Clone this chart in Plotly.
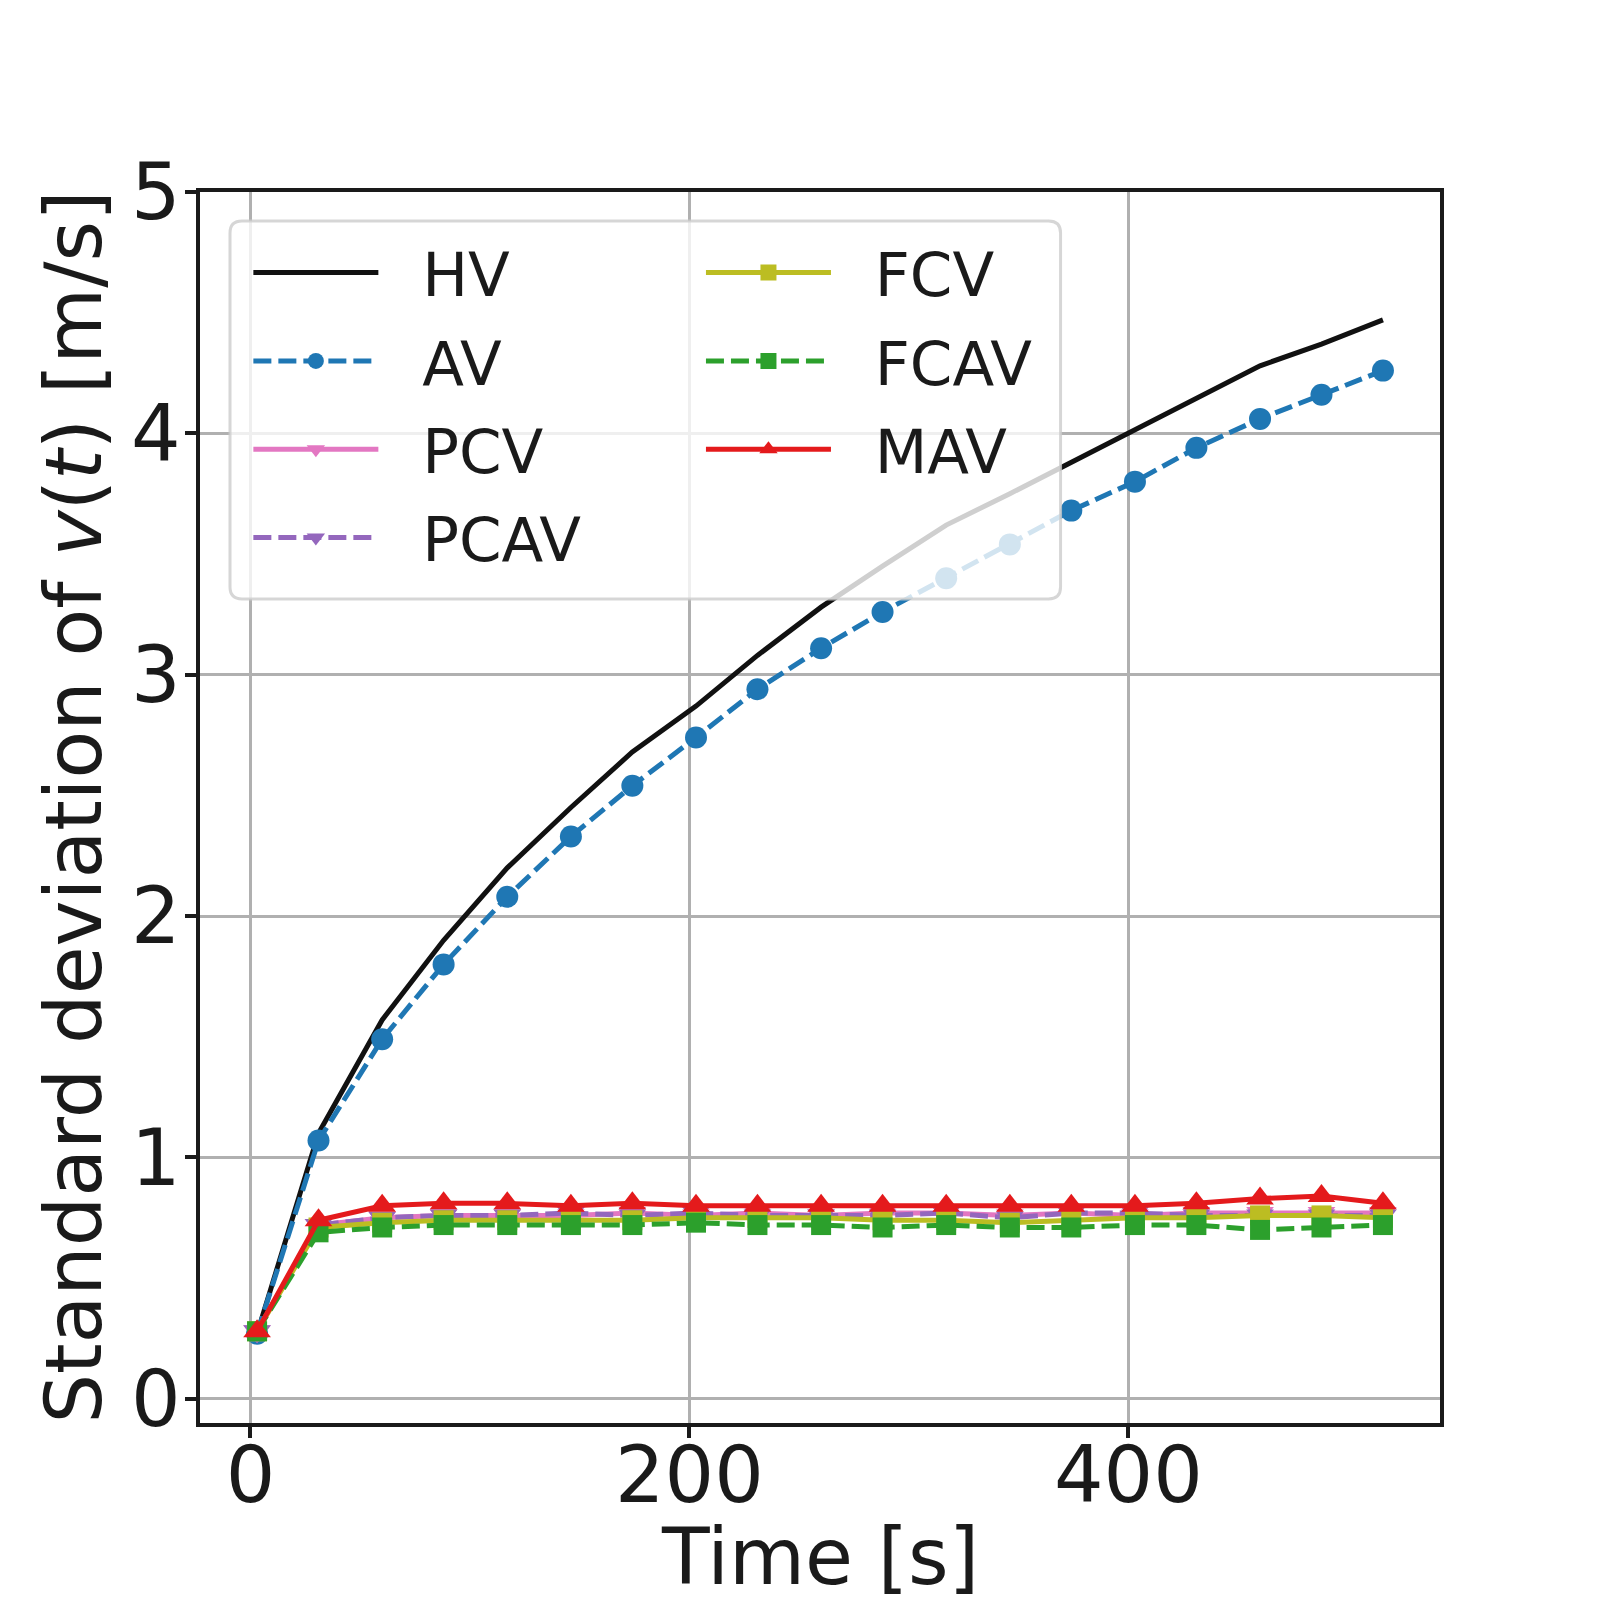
import plotly.graph_objects as go

# time stamps [s]
t = [3, 31, 60, 88, 117, 146, 174, 203, 231, 260, 288, 317, 346, 374, 403, 431, 460, 488, 516]

# standard deviation of v(t) [m/s]
hv = [0.27, 1.10, 1.57, 1.90, 2.20, 2.45, 2.68, 2.87, 3.08, 3.28, 3.45, 3.62, 3.75, 3.88, 4.02, 4.15, 4.28, 4.37, 4.47]
av = [0.27, 1.07, 1.49, 1.80, 2.08, 2.33, 2.54, 2.74, 2.94, 3.11, 3.26, 3.40, 3.54, 3.68, 3.80, 3.94, 4.06, 4.16, 4.26]
pcv = [0.28, 0.72, 0.75, 0.76, 0.76, 0.76, 0.77, 0.76, 0.77, 0.76, 0.77, 0.77, 0.76, 0.77, 0.76, 0.77, 0.77, 0.77, 0.77]
pcav = [0.28, 0.72, 0.75, 0.76, 0.76, 0.77, 0.76, 0.77, 0.76, 0.76, 0.76, 0.77, 0.75, 0.77, 0.77, 0.76, 0.76, 0.76, 0.76]
fcv = [0.28, 0.71, 0.73, 0.74, 0.74, 0.74, 0.74, 0.75, 0.75, 0.75, 0.74, 0.74, 0.73, 0.74, 0.75, 0.75, 0.76, 0.76, 0.75]
fcav = [0.28, 0.69, 0.71, 0.72, 0.72, 0.72, 0.72, 0.73, 0.72, 0.72, 0.71, 0.72, 0.71, 0.71, 0.72, 0.72, 0.70, 0.71, 0.72]
mav = [0.28, 0.74, 0.80, 0.81, 0.81, 0.80, 0.81, 0.80, 0.80, 0.80, 0.80, 0.80, 0.80, 0.80, 0.80, 0.81, 0.83, 0.84, 0.81]

FONT = "DejaVu Sans"
TXT = "#1a1a1a"
DASH = "18px,7px"
LW = 5

series = [
    # name, values, color, dash, symbol, size, legend
    ("HV", hv, "#111111", "solid", None, 0, "legend"),
    ("AV", av, "#1f77b4", DASH, "circle", 22, "legend"),
    ("PCV", pcv, "#e377c2", "solid", "triangle-down", 24, "legend"),
    ("PCAV", pcav, "#9467bd", DASH, "triangle-down", 24, "legend"),
    ("FCV", fcv, "#bcbd22", "solid", "square", 20, "legend2"),
    ("FCAV", fcav, "#2ca02c", DASH, "square", 20, "legend2"),
    ("MAV", mav, "#e41a1c", "solid", "triangle-up", 24, "legend2"),
]

fig = go.Figure()
for name, vals, col, dash, sym, ms, leg in series:
    fig.add_trace(go.Scatter(
        x=t, y=vals, name="\u00a0\u00a0" + name,
        mode="lines" if sym is None else "lines+markers",
        line=dict(color=col, width=LW, dash=dash),
        marker=dict(symbol=sym or "circle", size=ms or 1, color=col),
        legend=leg, legendgroup=name,
    ))

# semi transparent legend frame (matplotlib style)
x0, x1, y0, y1 = 0.0242, 0.694, 0.6694, 0.9764
rx, ry = 0.0097, 0.0097
path = (f"M{x0+rx},{y0} L{x1-rx},{y0} Q{x1},{y0} {x1},{y0+ry} "
        f"L{x1},{y1-ry} Q{x1},{y1} {x1-rx},{y1} L{x0+rx},{y1} "
        f"Q{x0},{y1} {x0},{y1-ry} L{x0},{y0+ry} Q{x0},{y0} {x0+rx},{y0} Z")
fig.add_shape(type="path", path=path, xref="paper", yref="paper", layer="above",
              fillcolor="rgba(255,255,255,0.8)", line=dict(color="rgba(204,204,204,0.8)", width=3))

axis = dict(
    showline=True, linecolor="#1a1a1a", linewidth=3.5, mirror=True,
    showgrid=True, gridcolor="#b0b0b0", gridwidth=3,
    ticks="outside", ticklen=11, tickwidth=3.5, tickcolor="#1a1a1a",
    tickfont=dict(family=FONT, size=78, color=TXT),
    zeroline=False, automargin=False,
)

leg = dict(font=dict(family=FONT, size=61, color=TXT), bgcolor="rgba(0,0,0,0)",
           itemwidth=125, tracegroupgap=6, xanchor="left", yanchor="top")

title_font = dict(family=FONT, size=78, color=TXT)

fig.update_layout(
    width=1600, height=1600,
    margin=dict(l=192, r=168, t=184, b=185),
    paper_bgcolor="white", plot_bgcolor="white",
    font=dict(family=FONT, color=TXT),
    xaxis=dict(axis, range=[-23, 542], tickvals=[0, 200, 400], ticklabelstandoff=-29),
    yaxis=dict(axis, range=[-0.1, 5.0], tickvals=[0, 1, 2, 3, 4, 5], ticklabelstandoff=-11),
    legend=dict(leg, x=0.039, y=0.972),
    legend2=dict(leg, x=0.404, y=0.972),
    annotations=[
        dict(text="Time [s]", xref="paper", yref="paper", x=0.5, y=-0.109,
             xanchor="center", yanchor="middle", showarrow=False, font=title_font),
        dict(text="Standard deviation of <i>v</i>(<i>t</i>) [m/s]", xref="paper", yref="paper",
             x=-0.1024, y=0.5, textangle=-90, xanchor="center", yanchor="middle",
             showarrow=False, font=title_font),
    ],
)

fig.write_html("out.html")
